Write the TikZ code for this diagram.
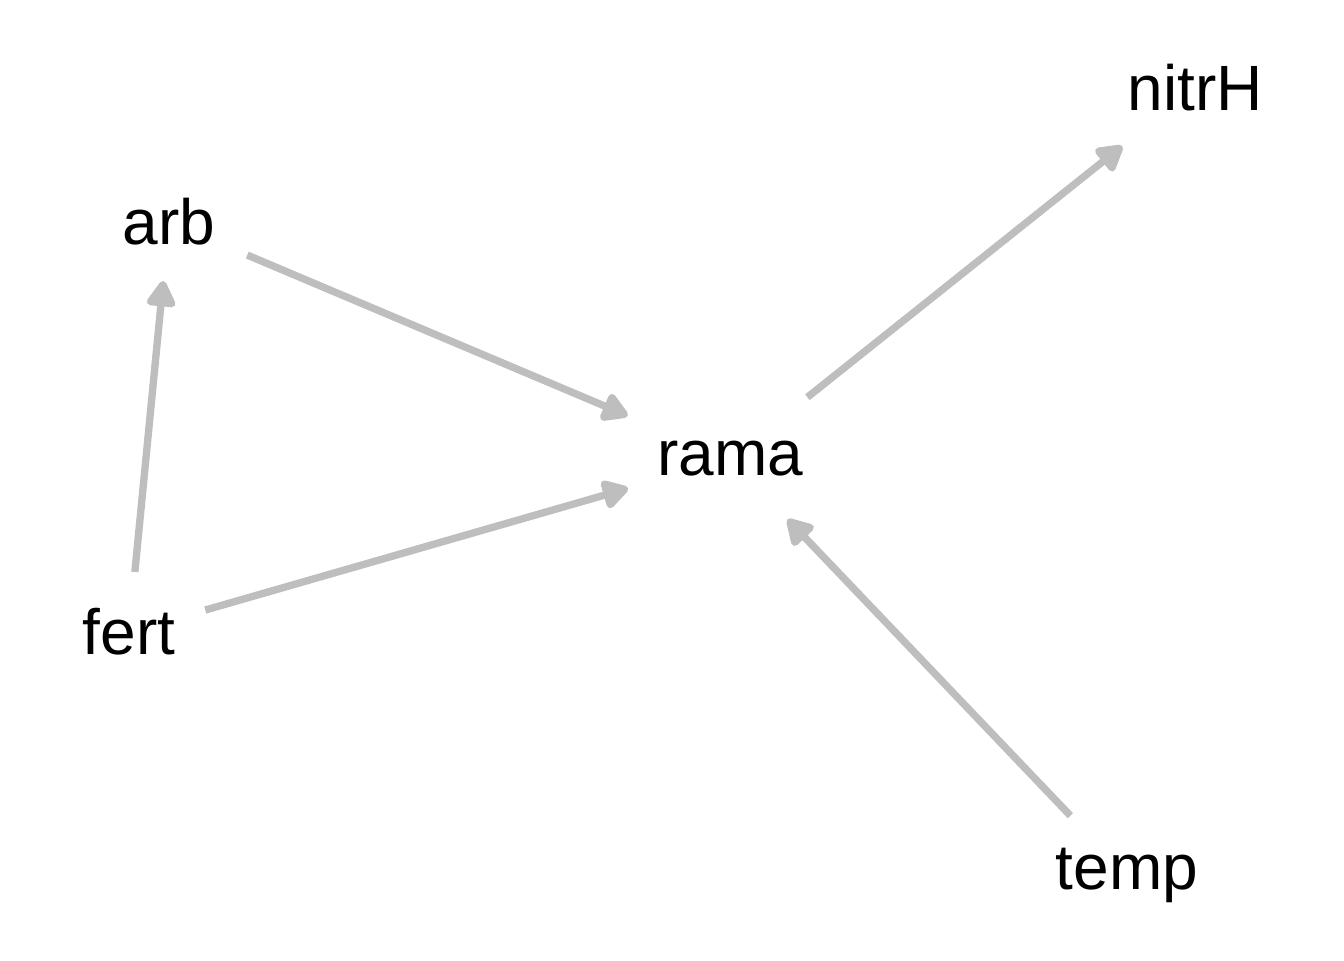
\documentclass[tikz,border=0pt]{standalone}
\usepackage{fontspec}
\setmainfont{Liberation Sans}
\usetikzlibrary{arrows.meta}
\definecolor{edgegray}{RGB}{190,190,190}
\tikzset{every picture/.style={line width=0.75pt}}
\tikzset{
  varnode/.style={inner sep=0pt, font=\fontsize{48}{58}\selectfont},
  dagedge/.style={draw=edgegray, line width=5.5pt, -{Triangle[length=22pt, width=24pt, round]}}
}
\begin{document}
\begin{tikzpicture}[x=0.75pt,y=0.75pt,yscale=-1,xscale=1]
\useasboundingbox (0,0) rectangle (1344,960);

% Text Node
\node [varnode] (arb) at (169,222) {arb};
% Text Node
\node [varnode] (fert) at (129,632) {fert};
% Text Node
\node [varnode] (rama) at (730,459) {rama};
% Text Node
\node [varnode] (nitrH) at (1195,88) {nitrH};
% Text Node
\node [varnode] (temp) at (1127,875) {temp};

% Connection
\draw [dagedge, shorten <=63.75pt, shorten >=83.25pt] (arb.center) -- (rama.center) ;
% Connection
\draw [dagedge, shorten <=59.5pt, shorten >=79.5pt] (fert.center) -- (rama.center) ;
% Connection
\draw [dagedge, shorten <=45.25pt, shorten >=44.5pt] (fert.center) -- (arb.center) ;
% Connection
\draw [dagedge, shorten <=74.25pt, shorten >=69.75pt] (rama.center) -- (nitrH.center) ;
% Connection
\draw [dagedge, shorten <=61.5pt, shorten >=62.5pt] (temp.center) -- (rama.center) ;

\end{tikzpicture}
\end{document}
